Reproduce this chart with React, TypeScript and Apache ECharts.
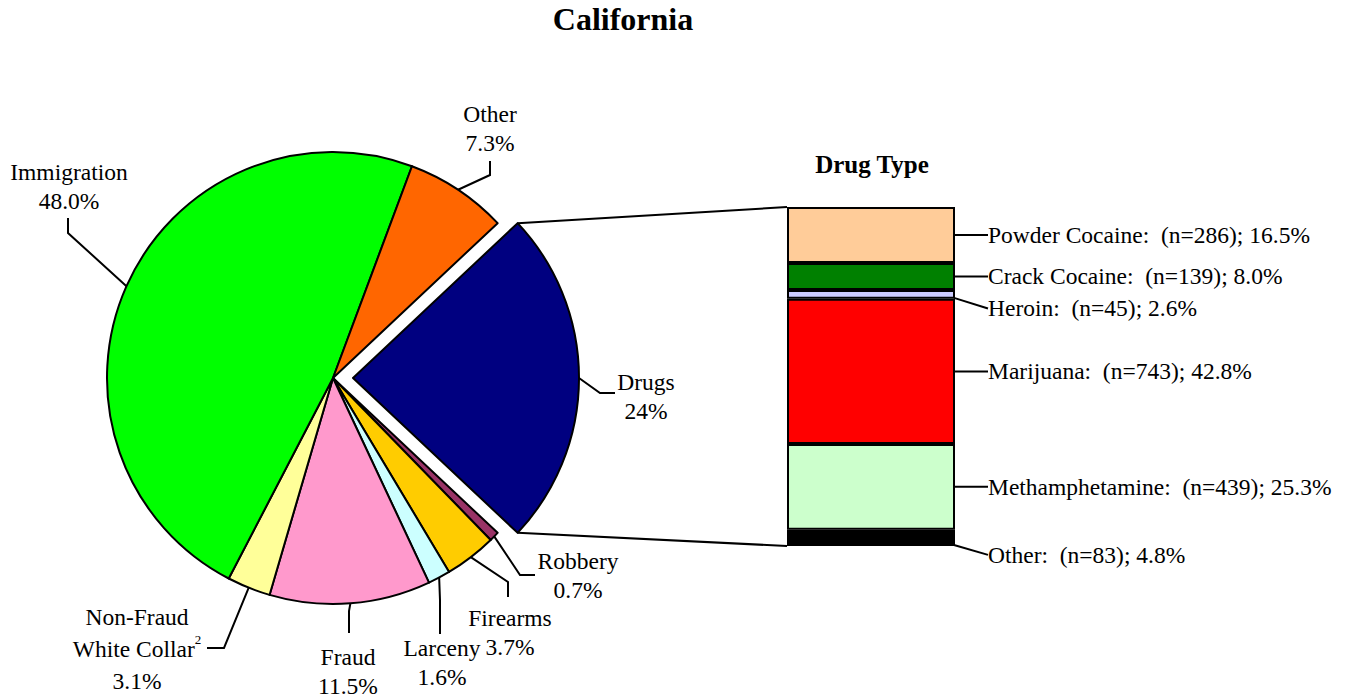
import React, { useEffect, useRef } from 'react';
import * as echarts from 'echarts';

// ---------- DATA ----------
const offenseNames = ['Drugs', 'Robbery', 'Firearms', 'Larceny', 'Fraud', 'Non-Fraud White Collar', 'Immigration', 'Other'];
const offenseLabelNames = ['Drugs', 'Robbery', 'Firearms', 'Larceny', 'Fraud', 'Non-Fraud\nWhite Collar{sup|2}', 'Immigration', 'Other'];
const offenseValues = [24, 0.7, 3.7, 1.6, 11.5, 3.1, 48.0, 7.3];
const offensePctLabels = ['24%', '0.7%', '3.7%', '1.6%', '11.5%', '3.1%', '48.0%', '7.3%'];
const offenseColors = ['#000080', '#993366', '#FFCC00', '#CCFFFF', '#FF99CC', '#FFFF99', '#00FF00', '#FF6600'];
const explodedOffense = 'Drugs';

// top to bottom in the stacked bar
const drugNames = ['Powder Cocaine', 'Crack Cocaine', 'Heroin', 'Marijuana', 'Methamphetamine', 'Other'];
const drugCounts = [286, 139, 45, 743, 439, 83];
const drugPercents = [16.5, 8.0, 2.6, 42.8, 25.3, 4.8];
const drugColors = ['#FFCC99', '#008000', '#CCCCFF', '#FF0000', '#CCFFCC', '#000000'];

// ---------- LAYOUT ----------
const FONT = "'Liberation Serif', 'Times New Roman', serif";
const FS = 23.5;
const PIE_CX = 333;
const PIE_CY = 378;
const PIE_R = 226;
const EXPLODE = 20;
const BAR_LEFT = 787;
const BAR_TOP = 207;
const BAR_W = 168;
const BAR_H = 339;

const PIE_LABEL_POS = [[646, 396], [578, 575], [510, 632], [442, 662], [348, 671], [137, 649], [69, 186], [490, 128]];
const PIE_LINE_KNEE = [[600, 393], [520, 575], [508, 582], [440, 600], [349, 611], [224, 648], [68, 233], [490, 175]];
const PIE_LINE_END = [[615, 393], [535, 575], [508, 597], [440, 634], [349, 633], [207, 648], [68, 218], [490, 161]];
const BAR_LABEL_DY = [0, 0, 14, 0, 0, 17];

export default function App() {
  const ref = useRef<HTMLDivElement>(null);
  useEffect(() => {
    document.body.style.margin = '0';
    if (!ref.current) return;
    const chart = echarts.init(ref.current, null, { renderer: 'svg' });

    const total = offenseValues.reduce((a, b) => a + b, 0);
    const explodedIdx = offenseNames.indexOf(explodedOffense);
    const halfDrugs = (offenseValues[explodedIdx] / total) * 180; // degrees
    const startAngle = halfDrugs;

    const midAngles: number[] = [];
    let acc = startAngle;
    offenseValues.forEach((v) => {
      const span = (v / total) * 360;
      midAngles.push(acc - span / 2);
      acc -= span;
    });

    const hidden = {
      itemStyle: { color: 'transparent', borderWidth: 0 },
      label: { show: false },
      labelLine: { show: false },
    };

    // main pie: everything except the exploded slice
    const mainData = offenseNames.map((n, i) => {
      if (i === explodedIdx) return { name: n, value: offenseValues[i], ...hidden };
      return {
        name: n,
        value: offenseValues[i],
        itemStyle: { color: offenseColors[i] },
        label: i === 5 ? { lineHeight: 32 } : undefined,
      };
    });
    // exploded pie: only the exploded slice visible
    const explodedData = offenseNames.map((n, i) => {
      if (i !== explodedIdx) return { name: n, value: offenseValues[i], ...hidden };
      return { name: n, value: offenseValues[i], itemStyle: { color: offenseColors[i] } };
    });

    const pieLabel = {
      show: true,
      position: 'outside',
      fontFamily: FONT,
      fontSize: FS,
      color: '#000',
      lineHeight: 29,
      formatter: (p: any) => `${offenseLabelNames[p.dataIndex]}\n${offensePctLabels[p.dataIndex]}`,
      rich: {
        sup: { fontFamily: FONT, fontSize: 13, verticalAlign: 'top', lineHeight: 30, color: '#000' },
      },
    };

    const makeLayout = (exploded: boolean) => (p: any) => {
      const i = p.dataIndex;
      const a = (midAngles[i] * Math.PI) / 180;
      const cx = exploded ? PIE_CX + EXPLODE * Math.cos(a) : PIE_CX;
      const cy = exploded ? PIE_CY - EXPLODE * Math.sin(a) : PIE_CY;
      const start = [cx + PIE_R * Math.cos(a), cy - PIE_R * Math.sin(a)];
      return {
        x: PIE_LABEL_POS[i][0],
        y: PIE_LABEL_POS[i][1],
        align: 'center',
        verticalAlign: 'middle',
        labelLinePoints: [start, PIE_LINE_KNEE[i], PIE_LINE_END[i]],
      };
    };

    const pieCommon = {
      type: 'pie',
      radius: PIE_R,
      startAngle,
      clockwise: true,
      avoidLabelOverlap: false,
      itemStyle: { borderColor: '#000', borderWidth: 2 },
      emphasis: { disabled: true },
      label: pieLabel,
      labelLine: { show: true, length: 10, length2: 10, lineStyle: { color: '#000', width: 2 } },
      silent: true,
    };

    const aMid = (midAngles[explodedIdx] * Math.PI) / 180;
    const explodedCenter = [PIE_CX + EXPLODE * Math.cos(aMid), PIE_CY - EXPLODE * Math.sin(aMid)];

    const barSeries = drugNames
      .map((n, i) => ({ n, i }))
      .reverse()
      .map(({ n, i }) => ({
        type: 'bar',
        name: n,
        stack: 'drugs',
        barWidth: '100%',
        data: [drugPercents[i]],
        itemStyle: { color: drugColors[i], borderColor: '#000', borderWidth: 2 },
        label: {
          show: true,
          position: 'right',
          distance: 33,
          formatter: `${n}:  (n=${drugCounts[i]}); ${drugPercents[i].toFixed(1)}%`,
          fontFamily: FONT,
          fontSize: FS,
          color: '#000',
        },
        labelLine: { show: true, lineStyle: { color: '#000', width: 2 } },
        labelLayout: (p: any) => {
          const r = p.rect;
          const x0 = r.x + r.width;
          const cy = r.y + r.height / 2;
          const dy = BAR_LABEL_DY[i];
          const lx = p.labelRect.x;
          return {
            dy,
            labelLinePoints: [[x0, cy], [x0 + 20, cy + dy], [lx, cy + dy]],
          };
        },
        emphasis: { disabled: true },
        silent: true,
      }));

    const rad = (halfDrugs * Math.PI) / 180;
    const topCorner = [explodedCenter[0] + PIE_R * Math.cos(aMid + rad), explodedCenter[1] - PIE_R * Math.sin(aMid + rad)];
    const botCorner = [explodedCenter[0] + PIE_R * Math.cos(aMid - rad), explodedCenter[1] - PIE_R * Math.sin(aMid - rad)];

    chart.setOption({
      animation: false,
      title: [
        {
          text: 'California',
          left: 623,
          top: 3,
          textAlign: 'center',
          padding: 0,
          textStyle: { fontFamily: FONT, fontSize: 32, fontWeight: 'bold', color: '#000' },
        },
        {
          text: 'Drug Type',
          left: 872,
          top: 152,
          textAlign: 'center',
          padding: 0,
          textStyle: { fontFamily: FONT, fontSize: 25, fontWeight: 'bold', color: '#000' },
        },
      ],
      grid: { left: BAR_LEFT, top: BAR_TOP, width: BAR_W, height: BAR_H },
      xAxis: { type: 'category', data: ['Drug Type'], show: false },
      yAxis: { type: 'value', min: 0, max: 100, show: false },
      graphic: [
        {
          type: 'line',
          shape: { x1: topCorner[0], y1: topCorner[1], x2: BAR_LEFT, y2: BAR_TOP },
          style: { stroke: '#000', lineWidth: 2 },
          silent: true,
        },
        {
          type: 'line',
          shape: { x1: botCorner[0], y1: botCorner[1], x2: BAR_LEFT, y2: BAR_TOP + BAR_H },
          style: { stroke: '#000', lineWidth: 2 },
          silent: true,
        },
      ],
      series: [
        { ...pieCommon, center: [PIE_CX, PIE_CY], data: mainData, labelLayout: makeLayout(false) },
        { ...pieCommon, center: explodedCenter, data: explodedData, labelLayout: makeLayout(true) },
        ...barSeries,
      ],
    });

    return () => chart.dispose();
  }, []);

  return <div ref={ref} style={{ width: 1351, height: 697 }} />;
}
